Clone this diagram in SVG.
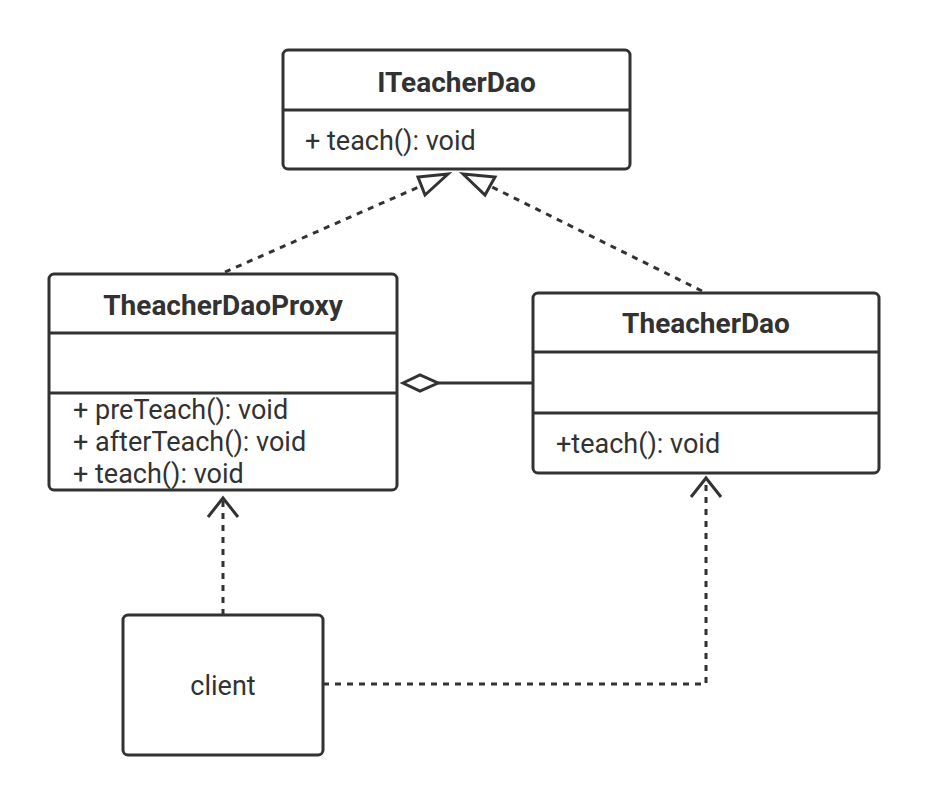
<svg xmlns="http://www.w3.org/2000/svg" width="929" height="805" viewBox="0 0 929 805">
<style>
.box{fill:#fff;stroke:#323232;stroke-width:3}
.div{stroke:#323232;stroke-width:3}
.t{font-family:Roboto,"Noto Sans","Liberation Sans",sans-serif;font-size:27px;fill:#323232}
.b{font-weight:bold;text-anchor:middle;font-size:28px}
.m{text-anchor:start}
.dash{fill:none;stroke:#323232;stroke-width:3;stroke-dasharray:6 6}
.solid{fill:none;stroke:#323232;stroke-width:3}
.head{fill:#fff;stroke:#323232;stroke-width:3;stroke-linejoin:miter}
.open{fill:none;stroke:#323232;stroke-width:3}
</style>
<rect width="929" height="805" fill="#fff"/>
<g id="connectors">
  <line class="dash" x1="225" y1="272" x2="421" y2="186"/>
  <polygon class="head" points="448,174 418,177 425,195"/>
  <line class="dash" x1="702" y1="291" x2="490" y2="186"/>
  <polygon class="head" points="463,174 495,177 485,195"/>
  <line class="solid" x1="438" y1="383" x2="533" y2="383"/>
  <polygon class="head" points="403,383 420,375 438,383 420,391"/>
  <path class="dash" d="M223,615 V500"/>
  <polyline class="open" points="208,517 223,498 238,517"/>
  <path class="dash" d="M323,684 H706 V481"/>
  <polyline class="open" points="691,497 706,478 721,497"/>
</g>
<g id="ITeacherDao">
  <rect class="box" x="283" y="50" width="347" height="119" rx="5"/>
  <line class="div" x1="283" y1="110" x2="630" y2="110"/>
  <text class="t b" x="456.5" y="92">ITeacherDao</text>
  <text class="t m" x="305" y="150">+ teach(): void</text>
</g>
<g id="TheacherDaoProxy">
  <rect class="box" x="49" y="274" width="348" height="216" rx="5"/>
  <line class="div" x1="49" y1="333" x2="397" y2="333"/>
  <line class="div" x1="49" y1="393" x2="397" y2="393"/>
  <text class="t b" x="223" y="315">TheacherDaoProxy</text>
  <text class="t m" x="73" y="419">+ preTeach(): void</text>
  <text class="t m" x="73" y="451">+ afterTeach(): void</text>
  <text class="t m" x="73" y="483">+ teach(): void</text>
</g>
<g id="TheacherDao">
  <rect class="box" x="533" y="293" width="346" height="180" rx="5"/>
  <line class="div" x1="533" y1="352" x2="879" y2="352"/>
  <line class="div" x1="533" y1="413" x2="879" y2="413"/>
  <text class="t b" x="706" y="333">TheacherDao</text>
  <text class="t m" x="556" y="453">+teach(): void</text>
</g>
<g id="client">
  <rect class="box" x="123" y="615" width="200" height="140" rx="5"/>
  <text class="t" x="223" y="695" text-anchor="middle">client</text>
</g>
</svg>
